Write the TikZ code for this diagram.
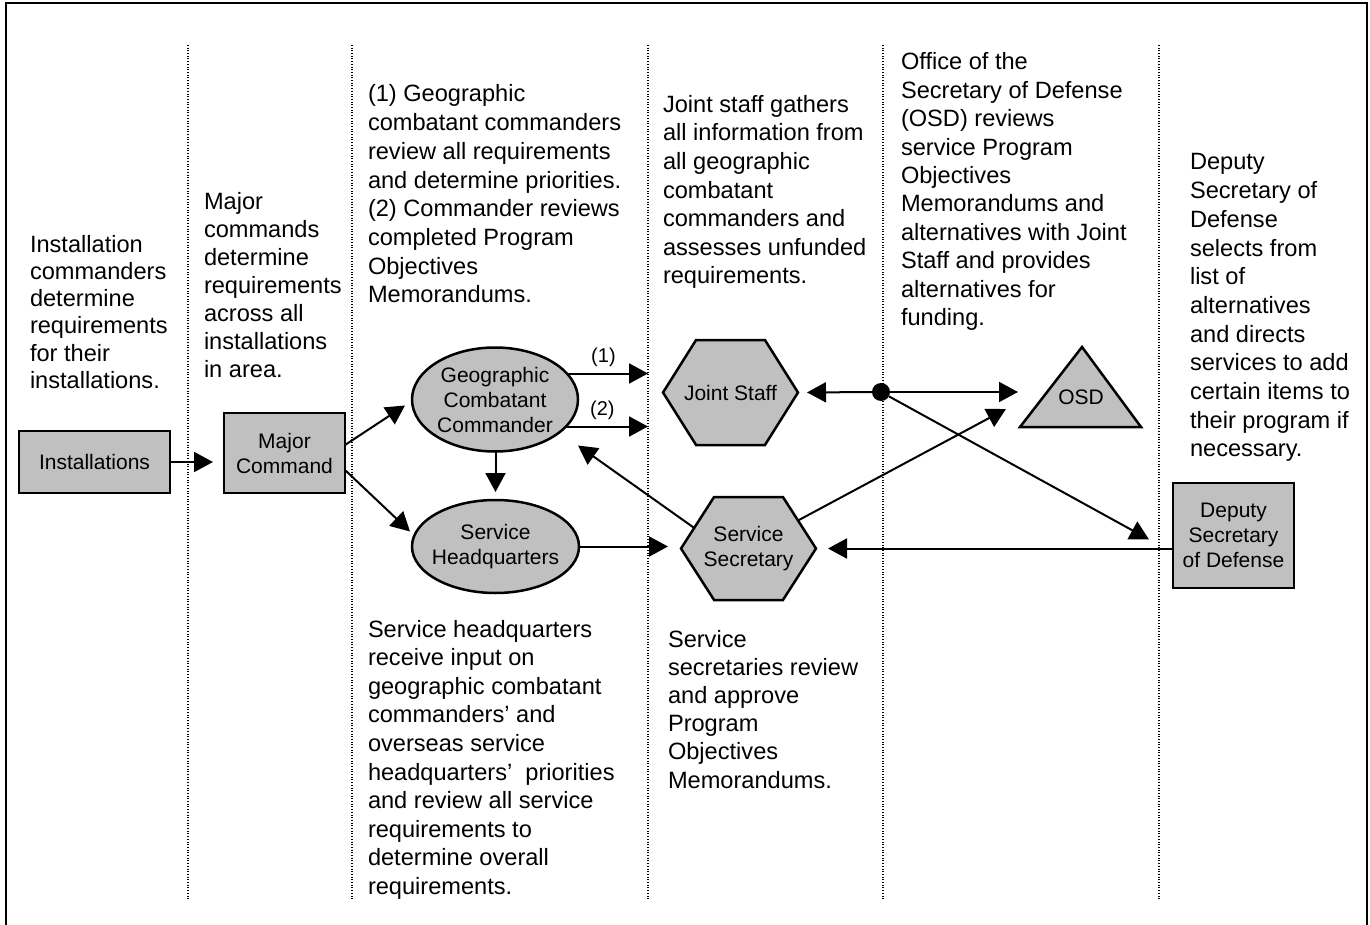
\documentclass[tikz,border=0pt]{standalone}
\usepackage{fontspec}
\setmainfont{Liberation Sans}
\usetikzlibrary{arrows.meta,calc,backgrounds,shapes.geometric}
\definecolor{shapegray}{RGB}{192,192,192}
\begin{document}
\begin{tikzpicture}[x=1pt,y=-1pt,
  blk/.style={anchor=north west, inner sep=0pt, outer sep=0pt, align=left, font=\fontsize{23.6}{#1}\selectfont},
  lbl/.style={inner sep=0pt, outer sep=0pt, align=center, font=\fontsize{21}{25}\selectfont},
  boxnode/.style={lbl, draw, line width=2.5pt, fill=shapegray, rectangle},
  shapenode/.style={lbl, rectangle},
  shp/.style={draw, line width=2.5pt, fill=shapegray, line join=miter},
  arr/.style={line width=2pt, -{Triangle[length=19pt,width=20pt]}},
  lab/.style={inner sep=2pt, font=\fontsize{20}{22}\selectfont},
  dotline/.style={line width=1.2pt, dash pattern=on 1pt off 1.7pt}
]
\useasboundingbox (0,0) rectangle (1370,925);
% frame (open at the bottom)
\draw[line width=2pt] (6,925) -- (6,3) -- (1367,3) -- (1367,925);
% dotted column separators
\foreach \x in {188,352,648,883,1159} \draw[dotline] (\x,45) -- (\x,899);

% description texts
\node[blk=27.3] (t1) at (30,232.9) {\strut Installation\\commanders\\determine\\requirements\\for their\\installations.};
\node[blk=28] (t2) at (204,189.4) {\strut Major\\commands\\determine\\requirements\\across all\\installations\\in area.};
\node[blk=28.7] (t3) at (368,81.9) {\strut (1) Geographic\\combatant commanders\\review all requirements\\and determine priorities.\\(2) Commander reviews\\completed Program\\Objectives\\Memorandums.};
\node[blk=28.6] (t4) at (663,92.2) {\strut Joint staff gathers\\all information from\\all geographic\\combatant\\commanders and\\assesses unfunded\\requirements.};
\node[blk=28.4] (t5) at (901,50.1) {\strut Office of the\\Secretary of Defense\\(OSD) reviews\\service Program\\Objectives\\Memorandums and\\alternatives with Joint\\Staff and provides\\alternatives for\\funding.};
\node[blk=28.7] (t6) at (1190,149.9) {\strut Deputy\\Secretary of\\Defense\\selects from\\list of\\alternatives\\and directs\\services to add\\certain items to\\their program if\\necessary.};
\node[blk=28.6] (t7) at (368,617) {\strut Service headquarters\\receive input on\\geographic combatant\\commanders’ and\\overseas service\\headquarters’ \ priorities\\and review all service\\requirements to\\determine overall\\requirements.};
\node[blk=28.2] (t8) at (668,627.3) {\strut Service\\secretaries review\\and approve\\Program\\Objectives\\Memorandums.};

% shapes
\node[boxnode, minimum width=151pt, minimum height=62pt] (inst) at (94.5,462) {Installations};
\node[boxnode, minimum width=121pt, minimum height=80pt] (mc) at (284.5,453) {Major\\Command};
\node[shapenode, minimum width=166pt, minimum height=104pt] (gcc) at (495,399.5) {Geographic\\Combatant\\Commander};
\node[shapenode, minimum width=167pt, minimum height=93pt] (shq) at (495.5,546.5) {Service\\Headquarters};
\node[shapenode, minimum width=135pt, minimum height=105pt] (js) at (730.5,392.5) {Joint Staff};
\node[shapenode, minimum width=135pt, minimum height=103pt] (ss) at (748.5,548.5) {Service\\Secretary};
\node[lbl] (osd) at (1081,397) {OSD};
\node[boxnode, minimum width=121pt, minimum height=105pt] (dep) at (1233.5,535.5) {Deputy\\Secretary\\of Defense};
\node[circle, fill, inner sep=0pt, minimum size=18pt] (dot) at (881,392) {};

\begin{scope}[on background layer]
\draw[shp] (gcc.center) ellipse [x radius=83pt, y radius=52pt];
\draw[shp] (shq.center) ellipse [x radius=83.5pt, y radius=46.5pt];
\foreach \h in {js,ss}
  \draw[shp] (\h.west) -- ($(\h.north west)!.245!(\h.north east)$) -- ($(\h.north west)!.755!(\h.north east)$) -- (\h.east) -- ($(\h.south west)!.755!(\h.south east)$) -- ($(\h.south west)!.245!(\h.south east)$) -- cycle;
\draw[shp] ($(osd)+(-61,30)$) -- ($(osd)+(60,30)$) -- ($(osd)+(1,-50)$) -- cycle;
\end{scope}

% connectors
\draw[arr, shorten >=11pt] (inst.east) -- (inst.east -| mc.west);
\draw[arr] ($(mc.east)+(0,-8)$) -- ($(gcc.west)+(-7,6)$);
\draw[arr] ($(mc.east)+(0,17)$) -- ($(shq.west)+(-2,-15)$);
\draw[arr, shorten >=8pt] (shq.north |- gcc.south) -- (shq.north);
\draw[arr] ($(gcc.east)+(-11,-26)$) -- node[lab, above=4pt, pos=0.45] {(1)} ($(js.west)+(-15,-19)$);
\draw[arr] ($(gcc.east)+(-13,27)$) -- node[lab, above=4pt, pos=0.45] {(2)} ($(js.west)+(-15,34)$);
\draw[arr, shorten >=13pt] (shq.east) -- (shq.east -| ss.west);
\draw[arr] ($(ss.west)+(14,-20)$) -- ($(gcc.center)+(83,46)$);
\draw[arr, shorten >=9pt] (dot) -- (js.east);
\draw[arr] (dot) -- ($(osd)+(-63,-5)$);
\draw[arr] (dot) -- ($(dep.west)+(-24,4)$);
\draw[arr] ($(ss.east)+(-18,-28)$) -- ($(osd)+(-75,12)$);
\draw[arr, shorten >=12pt] (ss.east -| dep.west) -- (ss.east);
\end{tikzpicture}
\end{document}
